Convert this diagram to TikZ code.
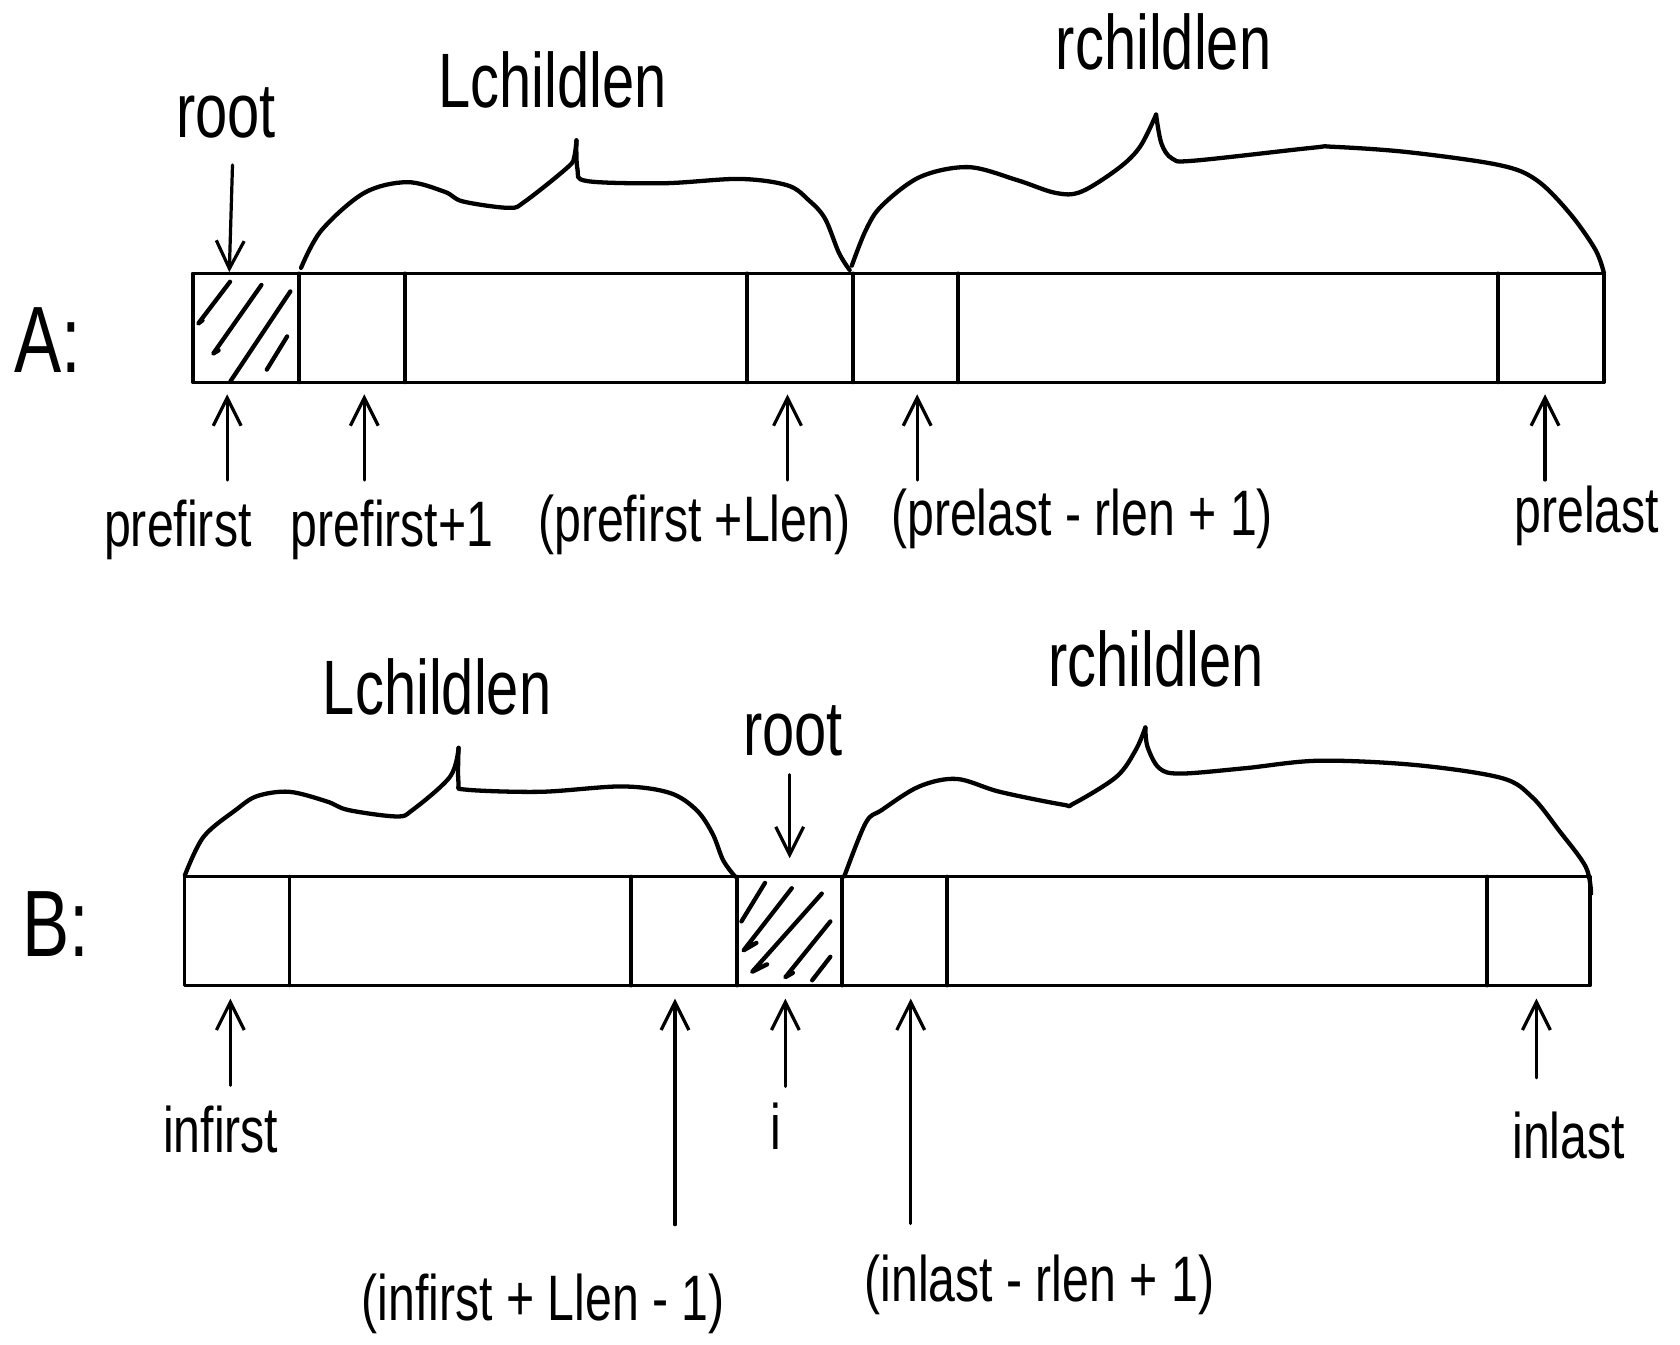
\documentclass[tikz,border=0pt]{standalone}
\usepackage{fontspec}
\newfontfamily\hand{Liberation Sans}[FakeStretch=0.75]
\usetikzlibrary{arrows.meta}
\begin{document}
\begin{tikzpicture}[x=1pt,y=-1pt,line cap=round,line join=round,
  box/.style={line width=3.2pt},
  hatch/.style={line width=4pt},
  brace/.style={line width=4pt},
  arr/.style={line width=3pt,-{Straight Barb[length=26pt,width=26pt]}},
  txt/.style={font=\hand\fontsize{60}{60}\selectfont,inner sep=0pt,anchor=base},
  big/.style={font=\hand\fontsize{72}{72}\selectfont,inner sep=0pt,anchor=base},
  huge/.style={font=\hand\fontsize{88}{88}\selectfont,inner sep=0pt,anchor=base}]
\useasboundingbox (0,0) rectangle (1568,1255);

% ---------------- Array A ----------------
\draw[box] (180,255) rectangle (1497,357);
\foreach \x in {279,378,697,796,894,1398} \draw[box] (\x,255) -- (\x,357);
% hatching of root cell
\draw[hatch] (214.7,263) -- (185,302) -- (189,299);
\draw[hatch] (244,266) -- (199,330) -- (204,327);
\draw[hatch] (271,272) -- (215,356);
\draw[hatch] (268,314) -- (249,345);

% braces A
\draw[brace] plot[smooth,tension=0.55] coordinates {(281,250) (300,215) (340,180) (380,170) (415,179) (432,188) (475,194) (490,188) (530,156) (536,146) (538,131)};
\draw[brace] plot[smooth,tension=0.55] coordinates {(538,131) (539,158) (548,169) (620,171) (690,167) (735,173) (755,187) (770,204) (783,236) (793,252)};
\draw[brace] plot[smooth,tension=0.55] coordinates {(795,248) (808,215) (823,192) (859,165) (904,156) (949,168) (985,180) (1009,179) (1044,157) (1064,137) (1079,107)};
\draw[brace] plot[smooth,tension=0.55] coordinates {(1079,107) (1084,134) (1094,148) (1114,150) (1224,138) (1244,137) (1314,142) (1399,154) (1434,168) (1465,199) (1489,233) (1497,255)};

% labels A
\node[huge] (lA) at (45,348) {A:};
\node[big] (rootA) at (211,128) {root};
\node[big] (lcA) at (516,100) {Lchildlen};
\node[big] (rcA) at (1086,65) {rchildlen};
\node[txt] (pf) at (166,510) {prefirst};
\node[txt] (pf1) at (366,510) {prefirst+1};
\node[txt] (pfl) at (648,505) {(prefirst +Llen)};
\node[txt] (plr) at (1010,500) {(prelast - rlen + 1)};
\node[txt] (pl) at (1481,497) {prelast};

% arrows A
\coordinate (rAt) at (217,154); \coordinate (rAh) at (214,254);
\draw[arr] (rAt) -- (rAh);
\foreach \n/\x in {a1/212,a2/340,a3/735,a4/856,a5/1442}{
  \coordinate (\n t) at (\x,448); \coordinate (\n h) at (\x,368);
  \draw[arr] (\n t) -- (\n h);
}

% ---------------- Array B ----------------
\draw[box] (172,818) rectangle (1484,920);
\foreach \x in {270,589,688,786,884,1388} \draw[box] (\x,818) -- (\x,920);
% hatching of root cell
\draw[hatch] (714,824) -- (692,860);
\draw[hatch] (739,829) -- (694,887) -- (706,880);
\draw[hatch] (767,834) -- (702,907) -- (716,900);
\draw[hatch] (775,860) -- (733,912) -- (740,908);
\draw[hatch] (775,893) -- (758,915);

% braces B
\draw[brace] plot[smooth,tension=0.55] coordinates {(172.5,817) (190,781) (220,756) (240,743) (270,739) (305,748) (325,756) (370,762) (385,756) (420,725) (428,698)};
\draw[brace] plot[smooth,tension=0.55] coordinates {(428,698) (428,731) (435,737) (505,739) (580,734) (625,740) (650,756) (665,778) (675,803) (686,818)};
\draw[brace] plot[smooth,tension=0.55] coordinates {(788,818) (808,768) (823,756) (858,734) (893,727) (933,739) (992,751) (1002,750) (1042,725) (1060,700) (1069,679)};
\draw[brace] plot[smooth,tension=0.55] coordinates {(1069,679) (1071,697) (1082,717) (1102,722) (1162,717) (1231,710) (1321,714) (1401,726) (1430,744) (1455,775) (1480,809) (1485,834)};

% labels B
\node[huge] (lB) at (52,893) {B:};
\node[big] (lcB) at (408,667) {Lchildlen};
\node[big] (rootB) at (740,705) {root};
\node[big] (rcB) at (1079,641) {rchildlen};
\node[txt] (inf) at (206,1076) {infirst};
\node[txt] (ii) at (724,1073) {i};
\node[txt] (inl) at (1464,1081) {inlast};
\node[txt] (infl) at (507,1232) {(infirst + Llen - 1)};
\node[txt] (inlr) at (970,1215) {(inlast - rlen + 1)};

% arrows B
\coordinate (rBt) at (737,723); \coordinate (rBh) at (737,801);
\draw[arr] (rBt) -- (rBh);
\foreach \n/\x/\y in {b1/215/1013,b2/630/1143,b3/733/1014,b4/850/1142,b5/1434/1006}{
  \coordinate (\n t) at (\x,\y); \coordinate (\n h) at (\x,932);
  \draw[arr] (\n t) -- (\n h);
}
\end{tikzpicture}
\end{document}
